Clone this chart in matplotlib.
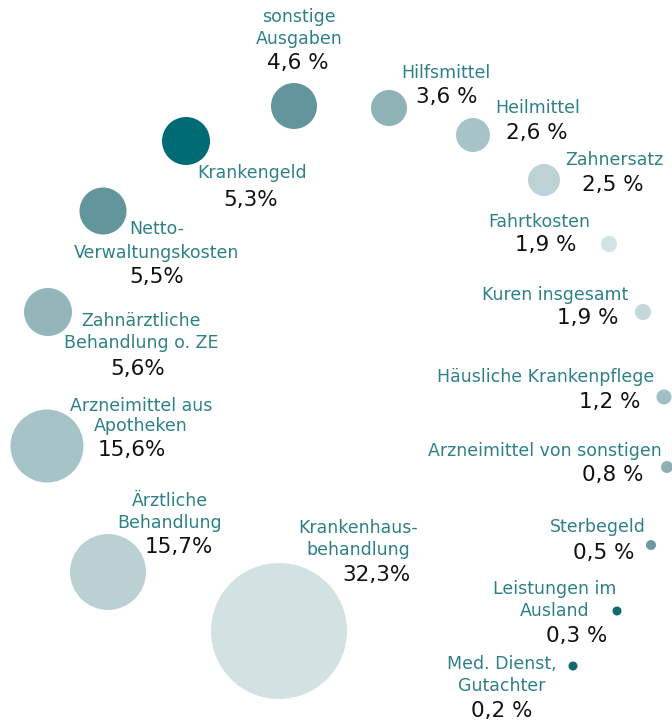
import matplotlib
matplotlib.use("Agg")
import matplotlib.pyplot as plt
from matplotlib.patches import Circle

# Ausgabenanteile in Prozent
labels = [
    "Krankenhaus-\nbehandlung", "Ärztliche\nBehandlung", "Arzneimittel aus\nApotheken",
    "Zahnärztliche\nBehandlung o. ZE", "Netto-\nVerwaltungskosten", "Krankengeld",
    "sonstige\nAusgaben", "Hilfsmittel", "Heilmittel", "Zahnersatz", "Fahrtkosten",
    "Kuren insgesamt", "Häusliche Krankenpflege", "Arzneimittel von sonstigen",
    "Sterbegeld", "Leistungen im\nAusland", "Med. Dienst,\nGutachter",
]
shares = [32.3, 15.7, 15.6, 5.6, 5.5, 5.3, 4.6, 3.6, 2.6, 2.5, 1.9, 1.9, 1.2, 0.8, 0.5, 0.3, 0.2]
# the big ones are printed without a gap before the % sign
gap = ["", "", "", "", "", "", " ", " ", " ", " ", " ", " ", " ", " ", " ", " ", " "]

colors = [
    "#d2e1e2", "#bbd0d3", "#a6c3c7", "#93b5ba", "#62959c", "#006b72",
    "#62959c", "#8fb2b7", "#a6c4c7", "#bcd2d4", "#d3e2e3",
    "#c4d8da", "#a2c0c3", "#8db0b5", "#6a9aa0", "#0d6b70", "#13696e",
]

# layout in pixel space (bubbles sit on an arc)
cx = [279, 108, 47, 48, 103, 186, 294, 389, 473, 544, 609, 643, 664, 667, 651, 617, 573]
cy = [631, 572, 446, 312, 211, 141, 106, 108, 135, 180, 244, 312, 397, 467, 545, 611, 666]
rad = [68, 38, 36.5, 24, 23.5, 24, 23, 18, 17, 16, 8, 8, 7.5, 6, 5, 4.5, 4.5]
lab_x = [358, 170, 141, 141, 157, 252, 299, 446, 538, 614, 539, 555, 546, 545, 598, 555, 502]
lab_y = [539, 512, 416, 332, 241, 173, 28, 73, 108, 160, 222, 295, 377, 451, 527, 600, 675]
val_x = [376, 179, 132, 138, 157, 251, 298, 447, 537, 613, 546, 588, 610, 613, 604, 577, 502]
val_y = [575, 547, 450, 369, 277, 200, 63, 97, 133, 185, 245, 318, 402, 475, 553, 636, 711]
lspace = [1.3, 1.3, 1.1, 1.3, 1.45, 1.3, 1.3, 1.3, 1.3, 1.3, 1.3, 1.3, 1.3, 1.3, 1.3, 1.3, 1.3]

W, H = 672, 724
fig = plt.figure(figsize=(W / 100, H / 100), dpi=100)
ax = fig.add_axes([0, 0, 1, 1])
ax.set_xlim(0, W)
ax.set_ylim(H, 0)
ax.set_aspect("equal")
ax.axis("off")

label_color = "#2e8088"
for i, name in enumerate(labels):
    ax.add_patch(Circle((cx[i], cy[i]), rad[i], facecolor=colors[i], edgecolor="none"))
    ax.text(lab_x[i], lab_y[i], name, ha="center", va="center", ma="center",
            fontsize=12.5, color=label_color, linespacing=lspace[i])
    txt = f"{shares[i]:.1f}".replace(".", ",") + gap[i] + "%"
    ax.text(val_x[i], val_y[i], txt, ha="center", va="center",
            fontsize=15.5, color="#111111")

fig.savefig("out.png", dpi=100)
